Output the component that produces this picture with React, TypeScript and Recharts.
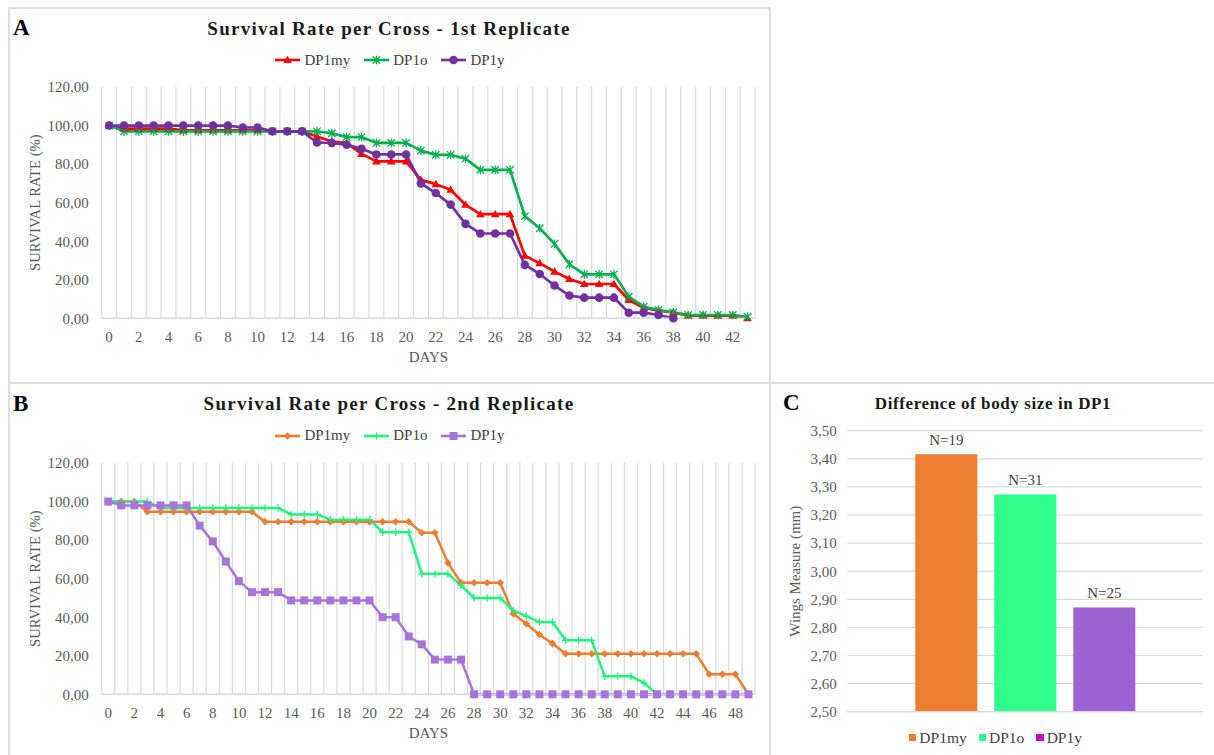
import React from "react";
import {
  Bar,
  BarChart,
  CartesianGrid,
  Label,
  LabelList,
  Line,
  LineChart,
  XAxis,
  YAxis,
} from "recharts";

const FONT = "'Liberation Serif', 'Times New Roman', serif";

// categories
const daysA = Array.from({ length: 44 }, (_, i) => i);
const daysB = Array.from({ length: 50 }, (_, i) => i);
const dayTicksA = daysA.filter((d) => d % 2 === 0);
const dayTicksB = daysB.filter((d) => d % 2 === 0);
const survivalTicks = [0, 20, 40, 60, 80, 100, 120];

// 1st replicate (%)
const rep1DP1my = [
  100, 98.4, 98.4, 98.4, 98.4, 97.5, 97.5, 97.5, 97.5, 97.5, 97.5, 97, 97, 97,
  94.3, 91.7, 91, 85.3, 81.4, 81.4, 81.4, 71.8, 69.6, 66.7, 58.9, 54, 54, 54,
  32.5, 28.6, 24.2, 20.4, 17.8, 17.8, 17.8, 9.5, 5.5, 4, 3.1, 1.4, 1.4, 1.4,
  1.4, 0,
];
const rep1DP1o = [
  100, 97, 97, 97, 97, 97, 97, 97, 97, 97, 97, 97, 97, 97, 97, 96, 94, 94, 91,
  91, 91, 87, 84.8, 84.8, 82.8, 77, 77, 77, 53, 46.7, 38.6, 28, 22.8, 22.8,
  22.8, 11.2, 6, 4.3, 3, 1.7, 1.7, 1.7, 1.7, 0.8,
];
const rep1DP1y = [
  100, 100, 100, 100, 100, 100, 100, 100, 100, 99, 99, 97, 97, 97, 91.2, 91,
  90, 88, 85, 85, 85, 70, 65, 59, 49, 44, 44, 44, 27.7, 23, 17, 11.8, 10.7,
  10.7, 10.7, 2.9, 2.9, 1.7, 0, null, null, null, null, null,
];

// 2nd replicate (%)
const rep2DP1my = [
  100, 100, 100, 94.7, 94.7, 94.7, 94.7, 94.7, 94.7, 94.7, 94.7, 94.7, 89.5,
  89.5, 89.5, 89.5, 89.5, 89.5, 89.5, 89.5, 89.5, 89.5, 89.5, 89.5, 83.8, 83.8,
  68.2, 57.9, 57.9, 57.9, 57.9, 41.8, 36.6, 31, 26.3, 21, 21, 21, 21, 21, 21,
  21, 21, 21, 21, 21, 10.4, 10.4, 10.4, 0,
];
const rep2DP1o = [
  100, 100, 100, 100, 96.7, 96.7, 96.7, 96.7, 96.7, 96.7, 96.7, 96.7, 96.7,
  96.7, 93.3, 93.3, 93.3, 90.6, 90.6, 90.6, 90.6, 84.1, 84.1, 84.1, 62.5, 62.5,
  62.5, 56.5, 50, 50, 50, 43.5, 40.6, 37.5, 37.5, 28, 28, 28, 9.3, 9.3, 9.3,
  5.9, 0, null, null, null, null, null, null, null,
];
const rep2DP1y = [
  100, 98, 98, 98, 98, 98, 98, 87.5, 79.3, 68.9, 58.7, 53, 53, 53, 48.7, 48.7,
  48.7, 48.7, 48.7, 48.7, 48.7, 40, 40, 30, 25.9, 18, 18, 18, 0, 0, 0, 0, 0, 0,
  0, 0, 0, 0, 0, 0, 0, 0, 0, 0, 0, 0, 0, 0, 0, 0,
];

// body size
const crosses = ["DP1my", "DP1o", "DP1y"];
const wingMeans = [3.416, 3.273, 2.871];
const sampleSizes = [19, 31, 25];
const wingTicks = [2.5, 2.6, 2.7, 2.8, 2.9, 3.0, 3.1, 3.2, 3.3, 3.4, 3.5];

type Shape = "triangle" | "star" | "circle" | "diamond" | "plus" | "square";

const seriesA = [
  { key: "DP1my", color: "#FF0000", shape: "triangle" as Shape },
  { key: "DP1o", color: "#00B050", shape: "star" as Shape },
  { key: "DP1y", color: "#7030A0", shape: "circle" as Shape },
];
const seriesB = [
  { key: "DP1my", color: "#ED7D31", shape: "diamond" as Shape },
  { key: "DP1o", color: "#1FF57D", shape: "plus" as Shape },
  { key: "DP1y", color: "#A774DA", shape: "square" as Shape },
];
const barColors = ["#ED7D31", "#2DFF8A", "#9E61D2"];
const barLegendColors = ["#ED7D31", "#2DFF8A", "#CC00CC"];

const rowsA = daysA.map((day, i) => ({
  day,
  DP1my: rep1DP1my[i],
  DP1o: rep1DP1o[i],
  DP1y: rep1DP1y[i],
}));
const rowsB = daysB.map((day, i) => ({
  day,
  DP1my: rep2DP1my[i],
  DP1o: rep2DP1o[i],
  DP1y: rep2DP1y[i],
}));
const bodyRow = [
  Object.fromEntries([["group", "DP1"], ...crosses.map((c, i) => [c, wingMeans[i]])]),
];

const fmt2 = (v: number) => v.toFixed(2).replace(".", ",");
const tickStyle = { fill: "#595959", fontSize: 15, fontFamily: FONT };

function marker(shape: Shape, cx: number, cy: number, color: string, key?: string) {
  const r = 3.7;
  switch (shape) {
    case "triangle":
      return (
        <path key={key} d={`M${cx} ${cy - 4.3}L${cx + 4.3} ${cy + 3}L${cx - 4.3} ${cy + 3}Z`} fill={color} />
      );
    case "star":
      return (
        <path
          key={key}
          d={`M${cx - r} ${cy - r}L${cx + r} ${cy + r}M${cx + r} ${cy - r}L${cx - r} ${cy + r}M${cx} ${cy - r - 0.6}L${cx} ${cy + r + 0.6}`}
          stroke={color}
          strokeWidth={1.3}
          fill="none"
        />
      );
    case "circle":
      return <circle key={key} cx={cx} cy={cy} r={4.3} fill={color} />;
    case "diamond":
      return (
        <path key={key} d={`M${cx} ${cy - 3.8}L${cx + 3.8} ${cy}L${cx} ${cy + 3.8}L${cx - 3.8} ${cy}Z`} fill={color} />
      );
    case "plus":
      return (
        <path
          key={key}
          d={`M${cx - r} ${cy}L${cx + r} ${cy}M${cx} ${cy - r}L${cx} ${cy + r}`}
          stroke={color}
          strokeWidth={1.3}
          fill="none"
        />
      );
    case "square":
      return <rect key={key} x={cx - 4} y={cy - 4} width={8} height={8} fill={color} />;
  }
}

const dotOf = (shape: Shape, color: string) => (p: any) => {
  const key = `${shape}-${p.index}`;
  if (p.cx == null || p.cy == null || Number.isNaN(p.cy)) return <g key={key} />;
  return marker(shape, p.cx, p.cy, color, key);
};

// vertical gridlines sit between the day categories, like Excel
const boundaryLines = (n: number) => ({ offset }: any) =>
  Array.from({ length: n + 1 }, (_, i) => offset.left + (i * offset.width) / n);

function SurvivalChart({
  rows,
  ticks,
  count,
  series,
  top,
  strokeWidth,
}: {
  rows: any[];
  ticks: number[];
  count: number;
  series: typeof seriesA;
  top: number;
  strokeWidth: number;
}) {
  return (
    <div style={{ position: "absolute", left: -32, top }}>
      <LineChart width={792} height={290.3} data={rows} margin={{ top: 7, right: 5, bottom: 8, left: 0 }}>
        <CartesianGrid
          horizontal={false}
          stroke="#d9d9d9"
          strokeWidth={1.2}
          verticalCoordinatesGenerator={boundaryLines(count)}
        />
        <XAxis
          type="number"
          dataKey="day"
          domain={[-0.5, count - 0.5]}
          ticks={ticks}
          interval={0}
          tickLine={false}
          tickSize={0}
          tickMargin={13}
          axisLine={{ stroke: "#d9d9d9", strokeWidth: 1.5 }}
          tick={tickStyle}
          height={44}
        >
          <Label value="DAYS" position="insideBottom" offset={0} fill="#595959" fontSize={15} fontFamily={FONT} />
        </XAxis>
        <YAxis
          domain={[0, 120]}
          ticks={survivalTicks}
          interval={0}
          tickFormatter={fmt2}
          width={133.7}
          axisLine={false}
          tickLine={false}
          tickSize={0}
          tickMargin={13}
          tick={tickStyle}
        >
          <Label
            value="SURVIVAL RATE (%)"
            angle={-90}
            position="center"
            fill="#595959"
            fontSize={14.7}
            fontFamily={FONT}
          />
        </YAxis>
        {series.map((s) => (
          <Line
            key={s.key}
            type="linear"
            dataKey={s.key}
            stroke={s.color}
            strokeWidth={strokeWidth}
            strokeLinejoin="round"
            dot={dotOf(s.shape, s.color)}
            activeDot={false}
            isAnimationActive={false}
          />
        ))}
      </LineChart>
    </div>
  );
}

function LineLegend({ series, top }: { series: typeof seriesA; top: number }) {
  return (
    <div
      style={{
        position: "absolute",
        left: 8,
        width: 764,
        top,
        display: "flex",
        justifyContent: "center",
        alignItems: "center",
        gap: 14,
        fontSize: 15,
        lineHeight: "15px",
        color: "#404040",
      }}
    >
      {series.map((s) => (
        <div key={s.key} style={{ display: "flex", alignItems: "center" }}>
          <svg width={25} height={12} style={{ marginRight: 4 }}>
            <line x1={0} y1={6} x2={25} y2={6} stroke={s.color} strokeWidth={2.6} />
            {marker(s.shape, 12.5, 6, s.color)}
          </svg>
          <span>{s.key}</span>
        </div>
      ))}
    </div>
  );
}

const box = (left: number, top: number, width: number, height: number): React.CSSProperties => ({
  position: "absolute",
  left,
  top,
  width,
  height,
  border: "2px solid #dedede",
  boxSizing: "border-box",
});

const panelLetter = (left: number, top: number): React.CSSProperties => ({
  position: "absolute",
  left,
  top,
  fontSize: 23,
  lineHeight: "23px",
  fontWeight: "bold",
  color: "#000",
});

const titleStyle = (top: number): React.CSSProperties => ({
  position: "absolute",
  left: 8,
  width: 762,
  top,
  textAlign: "center",
  fontSize: 19,
  lineHeight: "19px",
  fontWeight: "bold",
  letterSpacing: 1.27,
  color: "#1a1a1a",
});

export default function App() {
  return (
    <div
      style={{
        position: "relative",
        width: 1214,
        height: 755,
        overflow: "hidden",
        background: "#fff",
        fontFamily: FONT,
      }}
    >
      <style>{"body{margin:0;overflow:hidden}"}</style>
      <div style={box(8, 7, 763, 377)} />
      <div style={box(8, 382, 763, 390)} />
      <div style={box(769, 382, 470, 390)} />

      {/* A */}
      <div style={panelLetter(13, 16)}>A</div>
      <div style={titleStyle(18.8)}>Survival Rate per Cross - 1st Replicate</div>
      <LineLegend series={seriesA} top={52.5} />
      <SurvivalChart rows={rowsA} ticks={dayTicksA} count={44} series={seriesA} top={80} strokeWidth={2.7} />

      {/* B */}
      <div style={panelLetter(13, 391.5)}>B</div>
      <div style={titleStyle(394.3)}>Survival Rate per Cross - 2nd Replicate</div>
      <LineLegend series={seriesB} top={428} />
      <SurvivalChart rows={rowsB} ticks={dayTicksB} count={50} series={seriesB} top={455.5} strokeWidth={2.5} />

      {/* C */}
      <div style={panelLetter(783, 391)}>C</div>
      <div
        style={{
          position: "absolute",
          left: 770,
          width: 446,
          top: 395.3,
          textAlign: "center",
          fontSize: 17,
          lineHeight: "17px",
          fontWeight: "bold",
          letterSpacing: 0.6,
          color: "#1a1a1a",
        }}
      >
        Difference of body size in DP1
      </div>
      <div style={{ position: "absolute", left: 740, top: 415 }}>
        <BarChart
          width={467.3}
          height={307.7}
          data={bodyRow}
          margin={{ top: 15.7, right: 5, bottom: 10, left: 2.7 }}
          barSize={62}
          barGap={17}
        >
          <CartesianGrid vertical={false} stroke="#d9d9d9" strokeWidth={1.2} />
          <XAxis
            dataKey="group"
            tick={false}
            tickLine={false}
            axisLine={{ stroke: "#d9d9d9", strokeWidth: 1.2 }}
            height={1}
          />
          <YAxis
            domain={[2.5, 3.5]}
            ticks={wingTicks}
            interval={0}
            tickFormatter={fmt2}
            width={104.6}
            axisLine={false}
            tickLine={false}
            tickSize={0}
            tickMargin={10.5}
            tick={tickStyle}
          >
            <Label
              value="Wings Measure (mm)"
              angle={-90}
              position="center"
              fill="#595959"
              fontSize={15}
              fontFamily={FONT}
            />
          </YAxis>
          {crosses.map((c, i) => (
            <Bar key={c} dataKey={c} fill={barColors[i]} isAnimationActive={false}>
              <LabelList
                dataKey={c}
                position="top"
                offset={9}
                formatter={() => `N=${sampleSizes[i]}`}
                fill="#404040"
                fontSize={15}
                fontFamily={FONT}
              />
            </Bar>
          ))}
        </BarChart>
      </div>
      <div
        style={{
          position: "absolute",
          left: 770,
          width: 451,
          top: 730,
          display: "flex",
          justifyContent: "center",
          alignItems: "center",
          gap: 12,
          fontSize: 15.5,
          lineHeight: "15.5px",
          color: "#404040",
        }}
      >
        {crosses.map((c, i) => (
          <div key={c} style={{ display: "flex", alignItems: "center" }}>
            <span
              style={{
                display: "inline-block",
                width: 7.3,
                height: 7.3,
                background: barLegendColors[i],
                marginRight: 3,
              }}
            />
            <span>{c}</span>
          </div>
        ))}
      </div>
    </div>
  );
}
